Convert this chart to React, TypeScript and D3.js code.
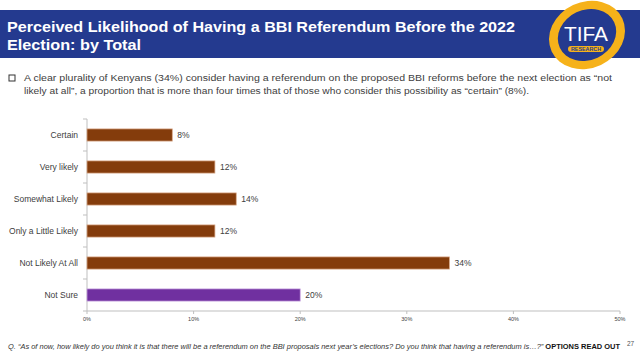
import * as d3 from 'd3';

const categories = ['Certain', 'Very likely', 'Somewhat Likely', 'Only a Little Likely', 'Not Likely At All', 'Not Sure'];
const values = [8, 12, 14, 12, 34, 20];
const ticks = [0, 10, 20, 30, 40, 50];

const W = 640;
const H = 358;
const left = 87;
const right = 620;
const top = 119;
const bottom = 311;

const BROWN = '#843c0c';
const PURPLE = '#7030a0';
const NAVY = '#243a8f';

export default function App() {
    const x = d3.scaleLinear().domain([0, 50]).range([left, right]);
    const y = d3.scaleBand().domain(categories).range([top, bottom]).paddingInner(0.62).paddingOuter(0.31);
    const bandEdges = d3.range(categories.length + 1).map((i) => top + (i * (bottom - top)) / categories.length);

    return (
        <svg width={W} height={H} style={{ position: 'absolute', left: 0, top: 0, background: '#fff' }}>
            {/* header band */}
            <rect x={0} y={10} width={W} height={48} fill={NAVY} />
            <g fill="#fff" fontFamily="'Liberation Sans', Arial, sans-serif" fontWeight="bold" fontSize={15}>
                <text x={7} y={32} textLength={508} lengthAdjust="spacingAndGlyphs">Perceived Likelihood of Having a BBI Referendum Before the 2022</text>
                <text x={7} y={50} textLength={134} lengthAdjust="spacingAndGlyphs">Election: by Total</text>
            </g>

            {/* logo */}
            <g transform="translate(587,35) rotate(-25)">
                <ellipse rx={39} ry={33} fill="#f6b21a" />
                <ellipse rx={30} ry={25} fill={NAVY} />
            </g>
            <text x={586} y={41} textAnchor="middle" fill="#fff" fontFamily="'Liberation Sans', Arial, sans-serif" fontSize={20} textLength={44} lengthAdjust="spacingAndGlyphs">TIFA</text>
            <rect x={568} y={46} width={36} height={6} rx={3} fill="#f6b21a" />
            <text x={586} y={51} textAnchor="middle" fill={NAVY} fontFamily="'Liberation Sans', Arial, sans-serif" fontSize={4.5} fontWeight="bold" textLength={30} lengthAdjust="spacingAndGlyphs">RESEARCH</text>

            {/* bullet */}
            <rect x={9} y={75} width={6} height={6} fill="none" stroke="#333" strokeWidth={1} />
            <g fill="#404040" fontFamily="'Liberation Sans', Arial, sans-serif" fontSize={8.5}>
                <text x={24} y={81} textLength={588} lengthAdjust="spacingAndGlyphs">A clear plurality of Kenyans (34%) consider having a referendum on the proposed BBI reforms before the next election as “not</text>
                <text x={24} y={94} textLength={505} lengthAdjust="spacingAndGlyphs">likely at all”, a proportion that is more than four times that of those who consider this possibility as “certain” (8%).</text>
            </g>

            {/* axes */}
            <line x1={left} x2={right} y1={bottom} y2={bottom} stroke="#bfbfbf" />
            <line x1={left} x2={left} y1={top} y2={bottom} stroke="#bfbfbf" />
            {bandEdges.map((e, i) => (
                <line key={i} x1={left - 4} x2={left} y1={e} y2={e} stroke="#bfbfbf" />
            ))}
            {ticks.map((t) => (
                <g key={t}>
                    <line x1={x(t)} x2={x(t)} y1={bottom} y2={bottom + 3} stroke="#bfbfbf" />
                    <text x={x(t)} y={321} textAnchor="middle" fill="#404040" fontFamily="'Liberation Sans', Arial, sans-serif" fontSize={5.5}>{t}%</text>
                </g>
            ))}

            {/* bars */}
            {categories.map((c, i) => {
                const yy = y(c) as number;
                const h = y.bandwidth();
                return (
                    <g key={c}>
                        <rect x={x(0)} y={yy} width={x(values[i]) - x(0)} height={h}
                            fill={c === 'Not Sure' ? PURPLE : BROWN} stroke={c === 'Not Sure' ? '#c9a6e0' : '#d9a98a'} strokeWidth={0.75} />
                        <text x={78} y={yy + h / 2 + 3} textAnchor="end" fill="#404040" fontFamily="'Liberation Sans', Arial, sans-serif" fontSize={8.5}>{c}</text>
                        <text x={x(values[i]) + 5} y={yy + h / 2 + 3} fill="#404040" fontFamily="'Liberation Sans', Arial, sans-serif" fontSize={8.5}>{values[i]}%</text>
                    </g>
                );
            })}

            {/* footnote */}
            <text x={8} y={349} fill="#333" fontFamily="'Liberation Sans', Arial, sans-serif" fontSize={6.5} textLength={612} lengthAdjust="spacingAndGlyphs">
                <tspan fontStyle="italic">Q. “As of now, how likely do you think it is that there will be a referendum on the BBI proposals next year’s elections? Do you think that having a referendum is…?”</tspan>
                <tspan fontWeight="bold" fill="#111"> OPTIONS READ OUT</tspan>
            </text>
            <text x={627} y={346} fill="#555" fontFamily="'Liberation Sans', Arial, sans-serif" fontSize={6.5}>27</text>
        </svg>
    );
}
